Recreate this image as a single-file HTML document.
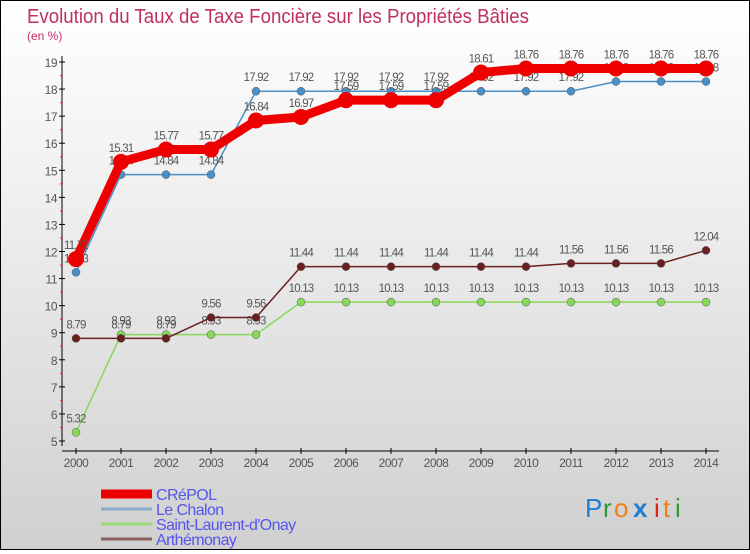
<!DOCTYPE html>
<html><head><meta charset="utf-8">
<style>
html,body{margin:0;padding:0;}
body{width:750px;height:550px;overflow:hidden;font-family:"Liberation Sans",sans-serif;}
#wrap{position:absolute;left:0;top:0;width:748px;height:548px;border:1px solid #000;background:linear-gradient(#ffffff 0%,#f2f2f2 30%,#d0d0d0 100%);}
</style></head>
<body>
<div id="wrap">
<svg id="chart" width="748" height="548" xmlns="http://www.w3.org/2000/svg">
<text x="26" y="22" font-size="20" fill="#c0305a" textLength="502" lengthAdjust="spacingAndGlyphs">Evolution du Taux de Taxe Foncière sur les Propriétés Bâties</text>
<text x="26" y="39" font-size="12" fill="#c0306a">(en %)</text>
<g id="axes"></g>
<g id="series"></g>
<g id="legend"></g>
<g font-size="26">
<text x="584" y="516" fill="#1e7fd0">P</text>
<text x="602" y="516" fill="#2e9a3a">r</text>
<text x="613" y="516" fill="#f08010">o</text>
<text x="632" y="516" fill="#1e7fd0" font-weight="bold">x</text>
<text x="653" y="516" fill="#e02020">i</text>
<text x="662" y="516" fill="#f08010">t</text>
<text x="674" y="516" fill="#2e9a3a">i</text>
</g>
</svg>
</div>
<script>
const years = [2000,2001,2002,2003,2004,2005,2006,2007,2008,2009,2010,2011,2012,2013,2014];
const yTicks = [5,6,7,8,9,10,11,12,13,14,15,16,17,18,19];
const crepol = [11.72,15.31,15.77,15.77,16.84,16.97,17.59,17.59,17.59,18.61,18.76,18.76,18.76,18.76,18.76];
const leChalon = [11.23,14.84,14.84,14.84,17.92,17.92,17.92,17.92,17.92,17.92,17.92,17.92,18.28,18.28,18.28];
const saintLaurent = [5.32,8.93,8.93,8.93,8.93,10.13,10.13,10.13,10.13,10.13,10.13,10.13,10.13,10.13,10.13];
const arthemonay = [8.79,8.79,8.79,9.56,9.56,11.44,11.44,11.44,11.44,11.44,11.44,11.56,11.56,11.56,12.04];
const seriesNames = ["CRéPOL","Le Chalon","Saint-Laurent-d'Onay","Arthémonay"];

const NS="http://www.w3.org/2000/svg";
function xs(i){return 75+i*45;}
function ys(v){return 440-(v-5)*(379/14);}
function mk(tag,attrs,parent){const e=document.createElementNS(NS,tag);for(const k in attrs)e.setAttribute(k,attrs[k]);parent.appendChild(e);return e;}
const axes=document.getElementById('axes');
let yl=mk('line',{x1:61,y1:55,x2:61,y2:445,stroke:'#000','stroke-width':1},axes);


let xl=mk('line',{x1:61,y1:450,x2:718,y2:450,stroke:'#000','stroke-width':1},axes);


yTicks.forEach((v,i)=>{
  const y=ys(v);
  mk('line',{x1:58,y1:y,x2:64,y2:y,stroke:'#000'},axes);
  if(i<yTicks.length-1) mk('line',{x1:59,y1:y-13.5,x2:62,y2:y-13.5,stroke:'#e03030'},axes);
  const t=mk('text',{x:56,y:y+5,'font-size':12,fill:'#555','text-anchor':'end','letter-spacing':'-0.5'},axes);
  t.textContent=v;
  
  
});
years.forEach((yr,i)=>{
  const x=xs(i);
  mk('line',{x1:x,y1:447,x2:x,y2:453,stroke:'#000'},axes);
  const t=mk('text',{x:x,y:466,'font-size':12,fill:'#555','text-anchor':'middle','letter-spacing':'-0.5'},axes);
  t.textContent=yr;
  
  
});
const sg=document.getElementById('series');
function drawSeries(vals,color,w,r,name){
  const g=mk('g',{},sg);
  
  
  const pts=vals.map((v,i)=>xs(i)+','+ys(v)).join(' ');
  mk('polyline',{points:pts,fill:'none',stroke:color,'stroke-width':w,'stroke-linejoin':'round'},g);
  vals.forEach((v,i)=>{
    const c=mk('circle',{cx:xs(i),cy:ys(v),r:r,fill:color,stroke:'#555','stroke-width':r>5?0:0.5},g);
    
    
    const t=mk('text',{x:xs(i),y:ys(v)-10,'font-size':11.5,fill:'#555','text-anchor':'middle','letter-spacing':'-0.8'},g);
    t.textContent=v;
    
    
  });
}
drawSeries(saintLaurent,'#88d858',1.5,4,'saint-laurent-series');
drawSeries(arthemonay,'#6b2020',1.5,4,'arthemonay-series');
drawSeries(leChalon,'#4a90c8',1.5,4,'le-chalon-series');
drawSeries(crepol,'#ee0000',9,8,'crepol-series');

const lg=document.getElementById('legend');
const lc=['#ee0000','#88aac8','#98d878','#8a6060'];
const lw=[9,3,3,3];
seriesNames.forEach((n,i)=>{
  const y=493+i*15;
  const g=mk('g',{},lg);
  
  
  mk('line',{x1:100,y1:y,x2:151,y2:y,stroke:lc[i],'stroke-width':lw[i]},g);
  const t=mk('text',{x:155,y:y+6,'font-size':16,fill:'#5555ee','letter-spacing':'-0.6'},g);
  t.textContent=n;
});
</script>
</body></html>
